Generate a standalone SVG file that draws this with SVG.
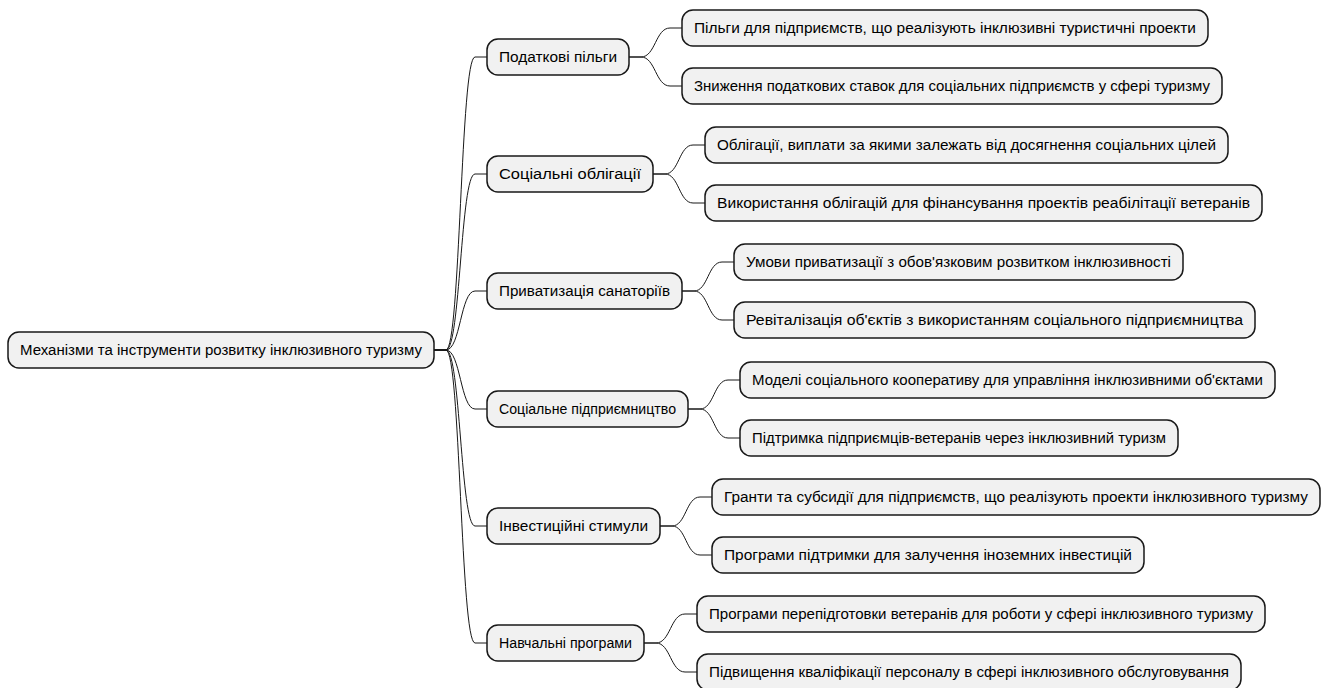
<svg xmlns="http://www.w3.org/2000/svg" width="1327" height="688" viewBox="0 0 1327 688">
<style>
.box{fill:#F1F1F1;stroke:#181818;stroke-width:1.5}
.t{font-family:"Liberation Sans",Arial,sans-serif;font-size:14px;fill:#000;text-anchor:middle}
.c{fill:none;stroke:#181818;stroke-width:1}
</style>
<rect width="1327" height="688" fill="#FFFFFF"/>
<g id="connectors">
<path class="c" d="M434,350 H446 C460.5,350 460.5,57 475,57 H487"/>
<path class="c" d="M434,350 H446 C460.5,350 460.5,174 475,174 H487"/>
<path class="c" d="M434,350 H446 C460.5,350 460.5,291 475,291 H487"/>
<path class="c" d="M434,350 H446 C460.5,350 460.5,409 475,409 H487"/>
<path class="c" d="M434,350 H446 C460.5,350 460.5,526 475,526 H487"/>
<path class="c" d="M434,350 H446 C460.5,350 460.5,643 475,643 H487"/>
<path class="c" d="M629,57 H641 C655.5,57 655.5,28 670,28 H682"/>
<path class="c" d="M629,57 H641 C655.5,57 655.5,86 670,86 H682"/>
<path class="c" d="M653,174 H665 C679,174 679,145 693,145 H705"/>
<path class="c" d="M653,174 H665 C679,174 679,203 693,203 H705"/>
<path class="c" d="M682,291 H694 C708,291 708,262 722,262 H734"/>
<path class="c" d="M682,291 H694 C708,291 708,320 722,320 H734"/>
<path class="c" d="M688,409 H700 C714,409 714,380 728,380 H740"/>
<path class="c" d="M688,409 H700 C714,409 714,438 728,438 H740"/>
<path class="c" d="M660,526 H672 C686,526 686,497 700,497 H712"/>
<path class="c" d="M660,526 H672 C686,526 686,555 700,555 H712"/>
<path class="c" d="M644,643 H656 C670.5,643 670.5,614 685,614 H697"/>
<path class="c" d="M644,643 H656 C670.5,643 670.5,672 685,672 H697"/>
</g>
<g id="root"><rect class="box" x="8" y="332" width="426" height="36" rx="11"/><text class="t" x="221" y="355" textLength="402" lengthAdjust="spacingAndGlyphs">Механізми та інструменти розвитку інклюзивного туризму</text></g>
<g id="n1"><rect class="box" x="487" y="39" width="142" height="36" rx="11"/><text class="t" x="558" y="62" textLength="118" lengthAdjust="spacingAndGlyphs">Податкові пільги</text></g>
<g id="n1a"><rect class="box" x="682" y="10" width="526" height="36" rx="11"/><text class="t" x="945" y="33" textLength="502" lengthAdjust="spacingAndGlyphs">Пільги для підприємств, що реалізують інклюзивні туристичні проекти</text></g>
<g id="n1b"><rect class="box" x="682" y="68" width="540" height="36" rx="11"/><text class="t" x="952" y="91" textLength="516" lengthAdjust="spacingAndGlyphs">Зниження податкових ставок для соціальних підприємств у сфері туризму</text></g>
<g id="n2"><rect class="box" x="487" y="156" width="166" height="36" rx="11"/><text class="t" x="570" y="179" textLength="142" lengthAdjust="spacingAndGlyphs">Соціальні облігації</text></g>
<g id="n2a"><rect class="box" x="705" y="127" width="523" height="36" rx="11"/><text class="t" x="966.5" y="150" textLength="499" lengthAdjust="spacingAndGlyphs">Облігації, виплати за якими залежать від досягнення соціальних цілей</text></g>
<g id="n2b"><rect class="box" x="705" y="185" width="557" height="36" rx="11"/><text class="t" x="983.5" y="208" textLength="533" lengthAdjust="spacingAndGlyphs">Використання облігацій для фінансування проектів реабілітації ветеранів</text></g>
<g id="n3"><rect class="box" x="487" y="273" width="195" height="36" rx="11"/><text class="t" x="584.5" y="296" textLength="171" lengthAdjust="spacingAndGlyphs">Приватизація санаторіїв</text></g>
<g id="n3a"><rect class="box" x="734" y="244" width="449" height="36" rx="11"/><text class="t" x="958.5" y="267" textLength="425" lengthAdjust="spacingAndGlyphs">Умови приватизації з обов'язковим розвитком інклюзивності</text></g>
<g id="n3b"><rect class="box" x="734" y="302" width="521" height="36" rx="11"/><text class="t" x="994.5" y="325" textLength="497" lengthAdjust="spacingAndGlyphs">Ревіталізація об'єктів з використанням соціального підприємництва</text></g>
<g id="n4"><rect class="box" x="487" y="391" width="201" height="36" rx="11"/><text class="t" x="587.5" y="414" textLength="177" lengthAdjust="spacingAndGlyphs">Соціальне підприємництво</text></g>
<g id="n4a"><rect class="box" x="740" y="362" width="535" height="36" rx="11"/><text class="t" x="1007.5" y="385" textLength="511" lengthAdjust="spacingAndGlyphs">Моделі соціального кооперативу для управління інклюзивними об'єктами</text></g>
<g id="n4b"><rect class="box" x="740" y="420" width="438" height="36" rx="11"/><text class="t" x="959" y="443" textLength="414" lengthAdjust="spacingAndGlyphs">Підтримка підприємців-ветеранів через інклюзивний туризм</text></g>
<g id="n5"><rect class="box" x="487" y="508" width="173" height="36" rx="11"/><text class="t" x="573.5" y="531" textLength="149" lengthAdjust="spacingAndGlyphs">Інвестиційні стимули</text></g>
<g id="n5a"><rect class="box" x="712" y="479" width="608" height="36" rx="11"/><text class="t" x="1016" y="502" textLength="584" lengthAdjust="spacingAndGlyphs">Гранти та субсидії для підприємств, що реалізують проекти інклюзивного туризму</text></g>
<g id="n5b"><rect class="box" x="712" y="537" width="432" height="36" rx="11"/><text class="t" x="928" y="560" textLength="408" lengthAdjust="spacingAndGlyphs">Програми підтримки для залучення іноземних інвестицій</text></g>
<g id="n6"><rect class="box" x="487" y="625" width="157" height="36" rx="11"/><text class="t" x="565.5" y="648" textLength="133" lengthAdjust="spacingAndGlyphs">Навчальні програми</text></g>
<g id="n6a"><rect class="box" x="697" y="596" width="568" height="36" rx="11"/><text class="t" x="981" y="619" textLength="544" lengthAdjust="spacingAndGlyphs">Програми перепідготовки ветеранів для роботи у сфері інклюзивного туризму</text></g>
<g id="n6b"><rect class="box" x="697" y="654" width="544" height="36" rx="11"/><text class="t" x="969" y="677" textLength="520" lengthAdjust="spacingAndGlyphs">Підвищення кваліфікації персоналу в сфері інклюзивного обслуговування</text></g>
</svg>
